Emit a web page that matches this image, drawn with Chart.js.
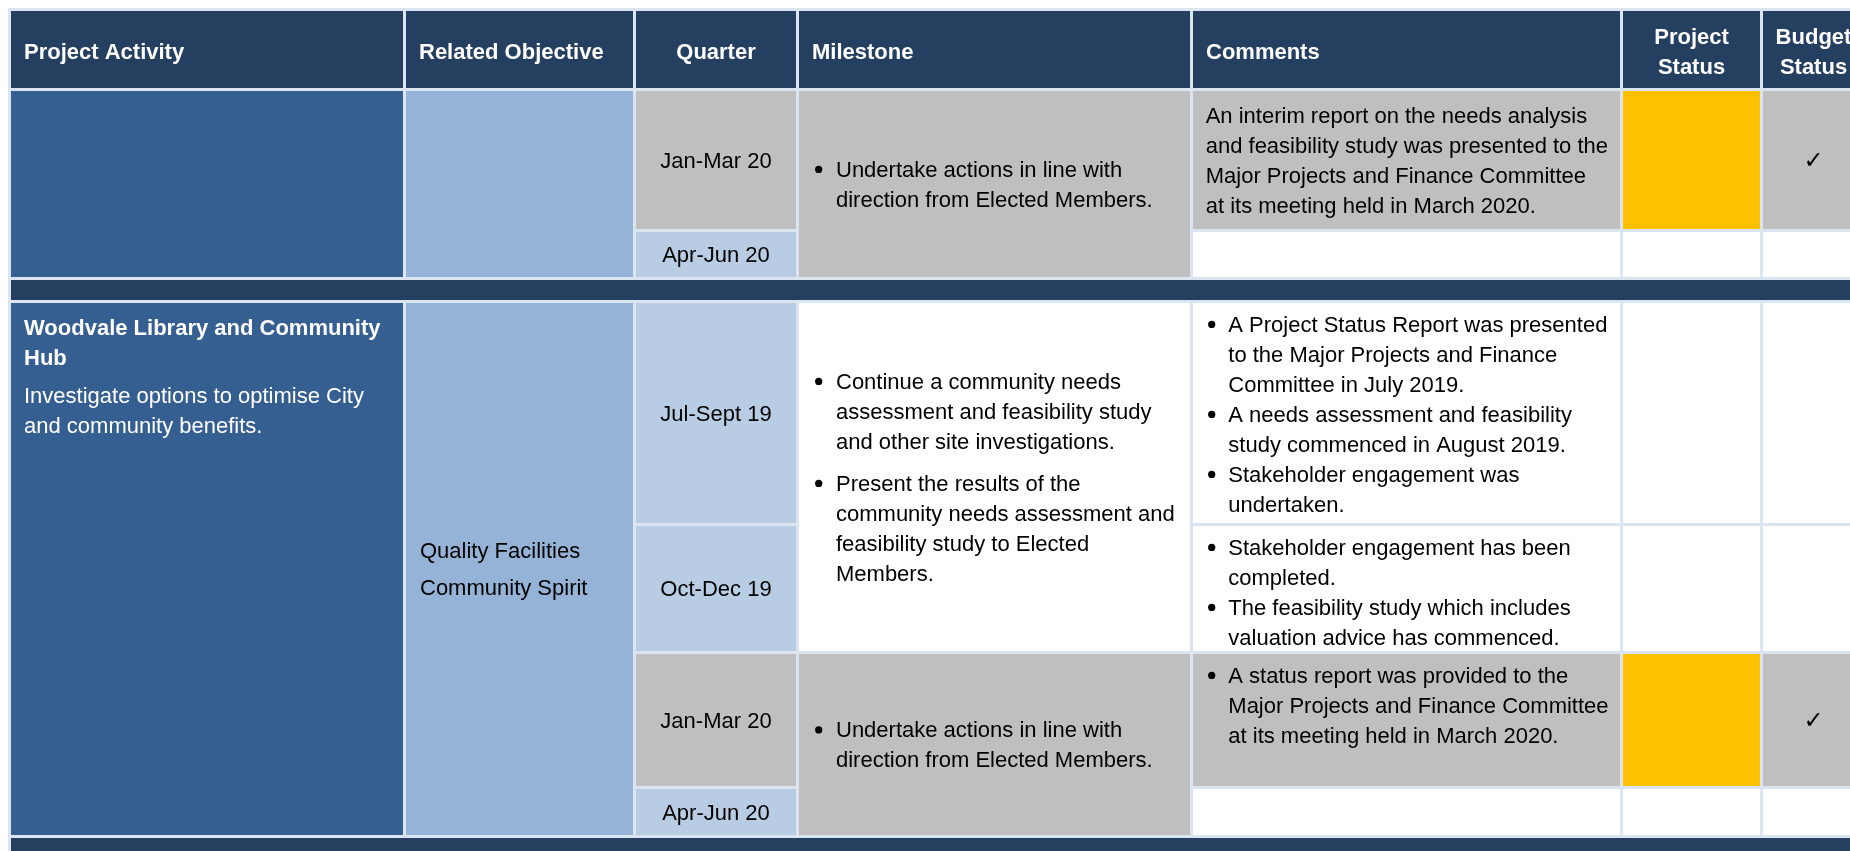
<!DOCTYPE html>
<html>
<head>
<meta charset="utf-8">
<script src="https://cdn.jsdelivr.net/npm/chart.js@4.4.1/dist/chart.umd.min.js"></script>
<style>
  html, body { margin: 0; padding: 0; background: #fff; overflow: hidden; }
  canvas { display: block; }
</style>
</head>
<body>
<canvas id="myChart" width="1850" height="851"></canvas>
<script>
// table content
var headers = ['Project Activity', 'Related Objective', 'Quarter', 'Milestone', 'Comments', 'Project\nStatus', 'Budget\nStatus'];
var quarters = ['Jan-Mar 20', 'Apr-Jun 20', 'Jul-Sept 19', 'Oct-Dec 19', 'Jan-Mar 20', 'Apr-Jun 20'];
var reportQuarter = 'Jan-Mar 20';
var activityOf = [0, 0, 1, 1, 1, 1];
var activityTitles = ['', 'Woodvale Library and Community\nHub'];
var activityText = ['', 'Investigate options to optimise City\nand community benefits.'];
var objectives = [[], ['Quality Facilities', 'Community Spirit']];
var milestoneSpans = [[0, 1], [2, 3], [4, 5]];
var milestones = [
    ['Undertake actions in line with\ndirection from Elected Members.'],
    ['Continue a community needs\nassessment and feasibility study\nand other site investigations.',
     'Present the results of the\ncommunity needs assessment and\nfeasibility study to Elected\nMembers.'],
    ['Undertake actions in line with\ndirection from Elected Members.']
];
var comments = [
    ['An interim report on the needs analysis\nand feasibility study was presented to the\nMajor Projects and Finance Committee\nat its meeting held in March 2020.'],
    [],
    ['A Project Status Report was presented\nto the Major Projects and Finance\nCommittee in July 2019.',
     'A needs assessment and feasibility\nstudy commenced in August 2019.',
     'Stakeholder engagement was\nundertaken.'],
    ['Stakeholder engagement has been\ncompleted.',
     'The feasibility study which includes\nvaluation advice has commenced.'],
    ['A status report was provided to the\nMajor Projects and Finance Committee\nat its meeting held in March 2020.'],
    []
];
var commentBullets = [false, false, true, true, true, false];
var projectStatus = ['Amber', '', '', '', 'Amber', ''];
var budgetStatus = ['On budget', '', '', '', 'On budget', ''];

// layout (grid lines in scale units, 1 unit = 1px)
var colLines = [9.5, 404.5, 634.5, 797.5, 1191.5, 1621.5, 1761.5, 1865.5];
var rowLines = [9.5, 89.5, 230.5, 278.5, 301.5, 524.5, 652.5, 787.5, 836.5, 880.5];
var slotRow = [1, 2, 4, 5, 6, 7];
var separatorRows = [3, 8];
var GAP = 3;
var FONT = "'Liberation Sans', Arial, sans-serif";
var LH = 30;
var BASE = 22.6;

var colors = {
    dark: '#243F60', activity: '#365F91', objective: '#95B3D7', quarter: '#B8CCE4',
    grey: '#BFBFBF', amber: '#FFC000', line: '#DBE5F1', white: '#FFFFFF'
};

function colCenter(c) { return (colLines[c] + colLines[c + 1]) / 2; }
function colWidth(c) { return colLines[c + 1] - colLines[c] - GAP; }
function cell(c, r0, r1, color, text) {
    return { x: colCenter(c), y: [rowLines[r0] + GAP / 2, rowLines[r1 + 1] - GAP / 2], color: color, text: text };
}
function isCurrent(s) { return quarters[s] === reportQuarter; }

var headerStyle = { size: 22, color: '#fff', valign: 'middle', padX: 13, shift: 1.5 };
function headerCell(c) {
    var align = (c === 2 || c === 5 || c === 6) ? 'center' : 'left';
    return cell(c, 0, 0, colors.dark, Object.assign({ align: align, paras: [{ text: headers[c], bold: true }] }, headerStyle));
}

var columns = [[], [], [], [], [], [], []];
for (var c = 0; c < 7; c++) columns[c].push(headerCell(c));

// activity + objective cells span all quarters of the activity
activityTitles.forEach(function (title, a) {
    var slots = [];
    activityOf.forEach(function (v, s) { if (v === a) slots.push(s); });
    var r0 = slotRow[slots[0]], r1 = slotRow[slots[slots.length - 1]];
    var paras = [];
    if (title) paras.push({ text: title, bold: true });
    if (activityText[a]) paras.push({ text: activityText[a] });
    columns[0].push(cell(0, r0, r1, colors.activity,
        { paras: paras, color: '#fff', size: 22, valign: 'top', padTop: 9.5, padX: 13, paraGap: 8 }));
    columns[1].push(cell(1, r0, r1, colors.objective,
        { paras: objectives[a].map(function (o) { return { text: o }; }), size: 22, valign: 'middle', padX: 14, paraGap: 7 }));
});

quarters.forEach(function (q, s) {
    var r = slotRow[s];
    columns[2].push(cell(2, r, r, isCurrent(s) ? colors.grey : colors.quarter,
        { paras: [{ text: q }], align: 'center', valign: 'middle', size: 22 }));
    columns[4].push(cell(4, r, r, isCurrent(s) ? colors.grey : colors.white,
        { paras: comments[s].map(function (t) { return { text: t, bullet: commentBullets[s] }; }),
          size: 22, valign: 'top', padTop: commentBullets[s] ? 6 : 9, padX: 12.7, bulletX: 18.7, textX: 35.3 }));
    columns[5].push(cell(5, r, r, projectStatus[s] === 'Amber' ? colors.amber : colors.white, null));
    columns[6].push(cell(6, r, r, budgetStatus[s] ? colors.grey : colors.white,
        budgetStatus[s] ? { paras: [{ text: '\u2713', font: "bold 24px 'DejaVu Sans'" }], align: 'center', valign: 'middle', size: 22 } : null));
});

milestoneSpans.forEach(function (sp, m) {
    var current = false;
    for (var s = sp[0]; s <= sp[1]; s++) if (isCurrent(s)) current = true;
    columns[3].push(cell(3, slotRow[sp[0]], slotRow[sp[1]], current ? colors.grey : colors.white,
        { paras: milestones[m].map(function (t) { return { text: t, bullet: true }; }),
          size: 22, valign: 'middle', bulletX: 19.7, textX: 37, paraGap: 12 }));
});

var fullCenter = (colLines[0] + colLines[colLines.length - 1]) / 2;
var fullWidth = colLines[colLines.length - 1] - colLines[0];

function barSet(label, data, color, thickness, order) {
    return {
        label: label,
        data: data,
        backgroundColor: color,
        barThickness: thickness,
        grouped: false,
        borderWidth: 0,
        inflateAmount: 0,
        order: order
    };
}

var datasets = columns.map(function (data, c) {
    return barSet(headers[c], data, data.map(function (d) { return d.color; }), colWidth(c), 1);
});
datasets.push(barSet('separators', separatorRows.map(function (r) {
    return { x: fullCenter, y: [rowLines[r] + GAP / 2, rowLines[r + 1] - GAP / 2] };
}), colors.dark, fullWidth - GAP, 1));
datasets.push(barSet('grid', [{ x: fullCenter, y: [rowLines[0] - GAP / 2, rowLines[rowLines.length - 1]] }],
    colors.line, fullWidth + GAP, 2));

function drawText(ctx, box, t) {
    var paras = t.paras.map(function (p) { return Object.assign({ lines: p.text.split('\n') }, p); });
    var n = 0;
    paras.forEach(function (p) { n += p.lines.length; });
    var gap = t.paraGap || 0;
    var total = n * LH + Math.max(0, paras.length - 1) * gap;
    var top = t.valign === 'top' ? box.top + (t.padTop || 0) : (box.top + box.bottom) / 2 - total / 2 + (t.shift || 0);
    ctx.save();
    ctx.fillStyle = t.color || '#000';
    ctx.textBaseline = 'alphabetic';
    paras.forEach(function (p) {
        p.lines.forEach(function (line, k) {
            var y = top + BASE;
            ctx.font = p.font || ((p.bold ? 'bold ' : '') + t.size + 'px ' + FONT);
            if (p.bullet && k === 0) {
                ctx.beginPath();
                ctx.arc(box.left + t.bulletX, y - 7.2, 3.6, 0, Math.PI * 2);
                ctx.fill();
            }
            if (t.align === 'center') {
                ctx.textAlign = 'center';
                ctx.fillText(line, (box.left + box.right) / 2, y);
            } else {
                ctx.textAlign = 'left';
                ctx.fillText(line, box.left + (p.bullet ? t.textX : t.padX), y);
            }
            top += LH;
        });
        top += gap;
    });
    ctx.restore();
}

var cellText = {
    id: 'cellText',
    afterDatasetsDraw: function (chart) {
        var ctx = chart.ctx;
        chart.data.datasets.forEach(function (ds, i) {
            chart.getDatasetMeta(i).data.forEach(function (bar, j) {
                var t = ds.data[j].text;
                if (!t) return;
                var p = bar.getProps(['x', 'y', 'base', 'width'], true);
                drawText(ctx, {
                    left: p.x - p.width / 2, right: p.x + p.width / 2,
                    top: Math.min(p.y, p.base), bottom: Math.max(p.y, p.base)
                }, t);
            });
        });
    }
};

var ctx = document.getElementById('myChart').getContext('2d');
var myChart = new Chart(ctx, {
    type: 'bar',
    data: { datasets: datasets },
    options: {
        responsive: false,
        animation: false,
        devicePixelRatio: 1,
        layout: { padding: 0 },
        plugins: { legend: { display: false }, tooltip: { enabled: false } },
        scales: {
            x: { type: 'linear', min: 0, max: 1850, offset: false, display: false },
            y: { type: 'linear', min: 0, max: 851, reverse: true, offset: false, display: false }
        }
    },
    plugins: [cellText]
});
</script>
</body>
</html>
